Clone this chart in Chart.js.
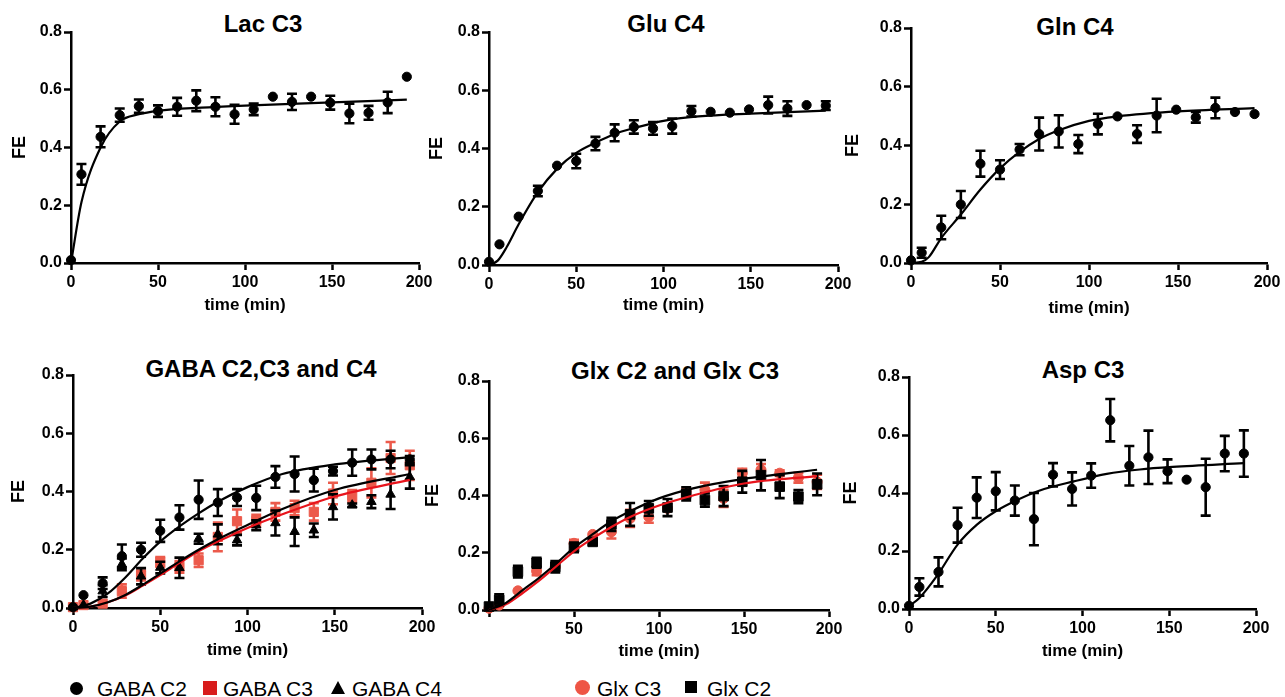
<!DOCTYPE html>
<html>
<head>
<meta charset="utf-8">
<script src="https://cdn.jsdelivr.net/npm/chart.js@4.4.0/dist/chart.umd.min.js"></script>
<style>
  html, body { margin: 0; padding: 0; background: #fff; }
  body { position: relative; width: 1285px; height: 697px; overflow: hidden;
         font-family: 'Liberation Sans', Arial, sans-serif; color: #000; }
  canvas { position: absolute; }
  .title { position: absolute; transform: translate(-50%, -50%); font-weight: bold;
           font-size: 24px; white-space: nowrap; }
  .lg { position: absolute; font-size: 21px; line-height: 21px; white-space: nowrap; }
  .dot { position: absolute; border-radius: 50%; }
  .sq { position: absolute; }
  .tri { position: absolute; width: 0; height: 0; border-left: 7px solid transparent;
         border-right: 7px solid transparent; border-bottom: 13px solid #000; }
</style>
</head>
<body>

<div class="title" style="left:263px;top:24px">Lac C3</div>
<div class="title" style="left:666px;top:24px">Glu C4</div>
<div class="title" style="left:1075px;top:27px">Gln C4</div>
<div class="title" style="left:261px;top:369px">GABA C2,C3 and C4</div>
<div class="title" style="left:675px;top:371px">Glx C2 and Glx C3</div>
<div class="title" style="left:1083px;top:370px">Asp C3</div>

<!-- legends -->
<span class="dot" style="left:70px;top:682px;width:13px;height:13px;background:#000"></span>
<span class="lg" style="left:97px;top:678px">GABA C2</span>
<span class="sq" style="left:203px;top:681px;width:14px;height:14px;background:#d81c1c"></span>
<span class="lg" style="left:223px;top:678px">GABA C3</span>
<span class="tri" style="left:331px;top:681px"></span>
<span class="lg" style="left:352px;top:678px">GABA C4</span>

<span class="dot" style="left:575px;top:680px;width:15px;height:15px;background:#ee5545"></span>
<span class="lg" style="left:597px;top:678px">Glx C3</span>
<span class="sq" style="left:685px;top:681px;width:12px;height:12px;background:#000"></span>
<span class="lg" style="left:707px;top:678px">Glx C2</span>

<script>
// ---------- data ----------
const times = [0, 6, 17, 28, 39, 50, 61, 72, 83, 94, 105, 116, 127, 138, 149, 160, 171, 182, 193];

const xTickValues = [0, 50, 100, 150, 200];
const xTickLabels = ['0', '50', '100', '150', '200'];
const xTickLabelsGlx = ['', '50', '100', '150', '200'];
const yTickValues = [0, 0.2, 0.4, 0.6, 0.8];
const yTickLabels = ['0.0', '0.2', '0.4', '0.6', '0.8'];

// Lac C3
const lacMean = [0.01, 0.307, 0.437, 0.512, 0.543, 0.526, 0.541, 0.562, 0.541, 0.515, 0.532, 0.576, 0.558, 0.576, 0.555, 0.518, 0.52, 0.556, 0.645];
const lacErr  = [0, 0.036, 0.036, 0.023, 0.023, 0.02, 0.031, 0.036, 0.033, 0.033, 0.02, 0, 0.028, 0, 0.024, 0.034, 0.024, 0.037, 0];
const lacFitT = [0, 6, 17, 28, 39, 50, 75, 100, 150, 193];
const lacFit  = [0, 0.21, 0.40, 0.49, 0.515, 0.527, 0.538, 0.545, 0.556, 0.566];

// Glu C4
const gluMean = [0.011, 0.071, 0.166, 0.254, 0.341, 0.357, 0.417, 0.454, 0.474, 0.469, 0.477, 0.528, 0.526, 0.523, 0.534, 0.549, 0.537, 0.549, 0.547];
const gluErr  = [0, 0, 0, 0.018, 0, 0.025, 0.023, 0.029, 0.023, 0.022, 0.026, 0.018, 0, 0, 0, 0.029, 0.025, 0, 0.015];
const gluFitT = [0, 5, 10, 17, 28, 39, 50, 61, 72, 83, 100, 120, 150, 193];
const gluFit  = [0, 0.015, 0.06, 0.14, 0.25, 0.33, 0.385, 0.42, 0.45, 0.47, 0.495, 0.51, 0.52, 0.53];

// Gln C4
const glnMean = [0.009, 0.035, 0.121, 0.199, 0.338, 0.318, 0.386, 0.439, 0.448, 0.405, 0.473, 0.499, 0.439, 0.502, 0.522, 0.496, 0.528, 0.514, 0.507];
const glnErr  = [0, 0.017, 0.04, 0.046, 0.044, 0.032, 0.019, 0.056, 0.055, 0.031, 0.035, 0, 0.03, 0.057, 0, 0.018, 0.035, 0, 0];
const glnFitT = [0, 6, 10, 17, 28, 39, 50, 61, 72, 83, 100, 116, 150, 193];
const glnFit  = [0, 0.004, 0.02, 0.085, 0.165, 0.25, 0.322, 0.378, 0.422, 0.452, 0.484, 0.499, 0.516, 0.527];

// GABA C2, C3, C4
const gabaC2    = [0.003, 0.044, 0.085, 0.178, 0.2, 0.265, 0.311, 0.372, 0.362, 0.379, 0.378, 0.45, 0.46, 0.439, 0.47, 0.499, 0.51, 0.51, 0.51];
const gabaC2Err = [0, 0, 0.02, 0.04, 0.024, 0.038, 0.042, 0.066, 0.046, 0.029, 0.042, 0.037, 0.06, 0.039, 0.015, 0.045, 0.034, 0.03, 0.012];
const gabaC3    = [0.003, 0.01, 0.015, 0.058, 0.112, 0.158, 0.141, 0.164, 0.244, 0.298, 0.30, 0.33, 0.343, 0.33, 0.393, 0.385, 0.43, 0.515, 0.49];
const gabaC3Err = [0, 0, 0, 0.023, 0.017, 0.017, 0.02, 0.023, 0.049, 0.04, 0.02, 0.03, 0.025, 0.03, 0.037, 0.02, 0.05, 0.055, 0.05];
const gabaC4    = [0.003, 0.01, 0.058, 0.15, 0.109, 0.139, 0.138, 0.238, 0.253, 0.233, 0.284, 0.292, 0.262, 0.267, 0.347, 0.353, 0.365, 0.39, 0.45];
const gabaC4Err = [0, 0, 0.02, 0.02, 0.028, 0.02, 0.035, 0.017, 0.034, 0.018, 0.017, 0.043, 0.049, 0.023, 0.043, 0.006, 0.022, 0.05, 0.04];
const gabaFitT  = [0, 10, 20, 30, 40, 50, 61, 72, 83, 100, 120, 150, 193];
const gabaC2Fit = [0, 0.015, 0.05, 0.105, 0.17, 0.228, 0.28, 0.325, 0.365, 0.415, 0.46, 0.493, 0.518];
const gabaC3Fit = [0, 0.005, 0.02, 0.043, 0.077, 0.113, 0.155, 0.195, 0.228, 0.275, 0.322, 0.383, 0.44];
const gabaC4Fit = [0, 0.005, 0.02, 0.045, 0.08, 0.118, 0.16, 0.2, 0.236, 0.285, 0.34, 0.405, 0.46];

// Glx C2, C3
const glxC2    = [0.012, 0.035, 0.134, 0.165, 0.151, 0.219, 0.238, 0.299, 0.334, 0.355, 0.358, 0.406, 0.384, 0.398, 0.448, 0.471, 0.431, 0.396, 0.439];
const glxC2Err = [0, 0.02, 0.02, 0.017, 0.02, 0.017, 0.01, 0.023, 0.04, 0.026, 0.03, 0.023, 0.023, 0.035, 0.038, 0.053, 0.04, 0.023, 0.038];
const glxC3    = [0.006, 0.017, 0.067, 0.136, 0.151, 0.233, 0.264, 0.273, 0.32, 0.325, 0.355, 0.413, 0.42, 0.39, 0.478, 0.49, 0.478, 0.462, 0.448];
const glxC3Err = [0, 0, 0, 0.014, 0, 0.012, 0, 0.023, 0.03, 0.02, 0, 0.01, 0.025, 0.03, 0.015, 0.02, 0.01, 0.017, 0.025];
const glxFitT  = [0, 10, 20, 30, 40, 50, 61, 72, 83, 100, 120, 150, 193];
const glxC2Fit = [0, 0.025, 0.07, 0.115, 0.165, 0.218, 0.265, 0.31, 0.345, 0.39, 0.425, 0.458, 0.49];
const glxC3Fit = [0, 0.02, 0.06, 0.105, 0.155, 0.205, 0.25, 0.29, 0.325, 0.365, 0.4, 0.442, 0.468];

// Asp C3
const aspMean = [0.011, 0.076, 0.128, 0.289, 0.384, 0.406, 0.374, 0.31, 0.463, 0.414, 0.46, 0.651, 0.494, 0.523, 0.475, 0.446, 0.42, 0.536, 0.536];
const aspErr  = [0, 0.03, 0.05, 0.06, 0.07, 0.066, 0.052, 0.09, 0.04, 0.057, 0.042, 0.073, 0.068, 0.092, 0.041, 0, 0.098, 0.061, 0.08];
const aspFitT = [0, 6, 16, 28, 39, 50, 62, 75, 95, 114, 133, 152, 193];
const aspFit  = [0.01, 0.038, 0.113, 0.222, 0.29, 0.337, 0.375, 0.408, 0.44, 0.466, 0.481, 0.49, 0.503];

// ---------- styling / layout ----------
const BLACK = '#000';
const SALMON = '#ec5a4b';
const RED_LINE = '#e8141c';
const FONT = 'Liberation Sans, Arial, sans-serif';
const Y_W = 70, X_H = 56, PAD_T = 12;

const pts = (xs, ys) => xs.map((x, i) => ({ x, y: ys[i] }));

function markers(means, errs, color, style, radius) {
  return {
    data: pts(times, means), errors: errs, errorColor: color,
    pointStyle: style, pointRadius: radius, pointBackgroundColor: color,
    pointBorderColor: color, pointBorderWidth: 1, showLine: false, clip: false
  };
}
function fitLine(ts, ys, color) {
  return {
    data: pts(ts, ys), showLine: true, borderColor: color, borderWidth: 2.2,
    pointRadius: 0, cubicInterpolationMode: 'monotone', fill: false, clip: false
  };
}

// error bars drawn just before each dataset's markers
const errorBars = {
  id: 'errorBars',
  beforeDatasetDraw(chart, args) {
    const ds = chart.data.datasets[args.index];
    if (!ds.errors) return;
    const { ctx, scales: { x, y } } = chart;
    ctx.save();
    ctx.strokeStyle = ds.errorColor;
    ctx.lineWidth = 2.6;
    ds.data.forEach((p, i) => {
      const e = ds.errors[i];
      if (!e) return;
      const px = x.getPixelForValue(p.x);
      const top = y.getPixelForValue(p.y + e);
      const bot = y.getPixelForValue(p.y - e);
      ctx.beginPath();
      ctx.moveTo(px, top); ctx.lineTo(px, bot);
      ctx.moveTo(px - 5, top); ctx.lineTo(px + 5, top);
      ctx.moveTo(px - 5, bot); ctx.lineTo(px + 5, bot);
      ctx.stroke();
    });
    ctx.restore();
  }
};

function makePanel(p, datasets) {
  const cv = document.createElement('canvas');
  const w = Y_W + (p.right - p.ax) + p.padR;
  const h = PAD_T + (p.bot - p.top) + X_H;
  cv.width = w; cv.height = h;
  cv.style.left = (p.ax - Y_W) + 'px';
  cv.style.top = (p.top - PAD_T) + 'px';
  cv.style.width = w + 'px'; cv.style.height = h + 'px';
  document.body.appendChild(cv);

  const tickFont = { family: FONT, size: 16, weight: 'bold' };
  new Chart(cv, {
    type: 'scatter',
    data: { datasets },
    options: {
      responsive: false,
      animation: false,
      layout: { padding: { top: PAD_T, right: p.padR, left: 0, bottom: 0 } },
      plugins: { legend: { display: false }, tooltip: { enabled: false } },
      scales: {
        x: {
          type: 'linear', min: 0, max: 200,
          afterBuildTicks: s => { s.ticks = xTickValues.map(v => ({ value: v })); },
          afterFit: s => { s.height = X_H; },
          ticks: { callback: (v, i) => p.xLabels[i], font: tickFont, color: BLACK,
                   padding: 3, maxRotation: 0, autoSkip: false },
          grid: { drawOnChartArea: false, drawTicks: true, tickLength: 7,
                  tickColor: BLACK, tickWidth: 2.5 },
          border: { display: true, color: BLACK, width: 2.5 },
          title: { display: true, text: 'time (min)', color: BLACK,
                   font: { family: FONT, size: 17, weight: 'bold' },
                   padding: { top: 0, bottom: 45.8 - p.timeOff } }
        },
        y: {
          type: 'linear', min: 0, max: 0.8,
          afterBuildTicks: s => { s.ticks = yTickValues.map(v => ({ value: v })); },
          afterFit: s => { s.width = Y_W; },
          ticks: { callback: (v, i) => yTickLabels[i], font: tickFont, color: BLACK,
                   padding: 2, autoSkip: false },
          grid: { drawOnChartArea: false, drawTicks: true, tickLength: 7,
                  tickColor: BLACK, tickWidth: 2.5 },
          border: { display: true, color: BLACK, width: 2.5 },
          title: { display: true, text: 'FE', color: BLACK,
                   font: { family: FONT, size: 18, weight: 'bold' },
                   padding: { top: Y_W - p.feOff - 10.8, bottom: 0 } }
        }
      }
    },
    plugins: [errorBars]
  });
}

// axis geometry in page pixels: y-axis x, top (0.8), bottom (0.0), right (200)
makePanel({ ax: 71, top: 32, bot: 263, right: 419, padR: 24, feOff: 51, timeOff: 42, xLabels: xTickLabels }, [
  fitLine(lacFitT, lacFit, BLACK),
  markers(lacMean, lacErr, BLACK, 'circle', 4.6)
]);
makePanel({ ax: 489, top: 32, bot: 265, right: 838, padR: 24, feOff: 52, timeOff: 40, xLabels: xTickLabels }, [
  fitLine(gluFitT, gluFit, BLACK),
  markers(gluMean, gluErr, BLACK, 'circle', 4.6)
]);
makePanel({ ax: 911, top: 28, bot: 263, right: 1267, padR: 18, feOff: 58, timeOff: 45, xLabels: xTickLabels }, [
  fitLine(glnFitT, glnFit, BLACK),
  markers(glnMean, glnErr, BLACK, 'circle', 4.6)
]);
makePanel({ ax: 73, top: 375, bot: 608, right: 422, padR: 24, feOff: 53.5, timeOff: 42, xLabels: xTickLabels }, [
  fitLine(gabaFitT, gabaC2Fit, BLACK),
  fitLine(gabaFitT, gabaC4Fit, BLACK),
  fitLine(gabaFitT, gabaC3Fit, RED_LINE),
  markers(gabaC2, gabaC2Err, BLACK, 'circle', 4.6),
  markers(gabaC4, gabaC4Err, BLACK, 'triangle', 5.5),
  markers(gabaC3, gabaC3Err, SALMON, 'rect', 6.5)
]);
makePanel({ ax: 489, top: 381, bot: 610, right: 829, padR: 24, feOff: 56, timeOff: 41, xLabels: xTickLabelsGlx }, [
  fitLine(glxFitT, glxC2Fit, BLACK),
  fitLine(glxFitT, glxC3Fit, RED_LINE),
  markers(glxC2, glxC2Err, BLACK, 'rect', 6.8),
  markers(glxC3, glxC3Err, SALMON, 'circle', 5)
]);
makePanel({ ax: 909, top: 377, bot: 609, right: 1256, padR: 24, feOff: 58, timeOff: 42, xLabels: xTickLabels }, [
  fitLine(aspFitT, aspFit, BLACK),
  markers(aspMean, aspErr, BLACK, 'circle', 4.6)
]);
</script>
</body>
</html>
